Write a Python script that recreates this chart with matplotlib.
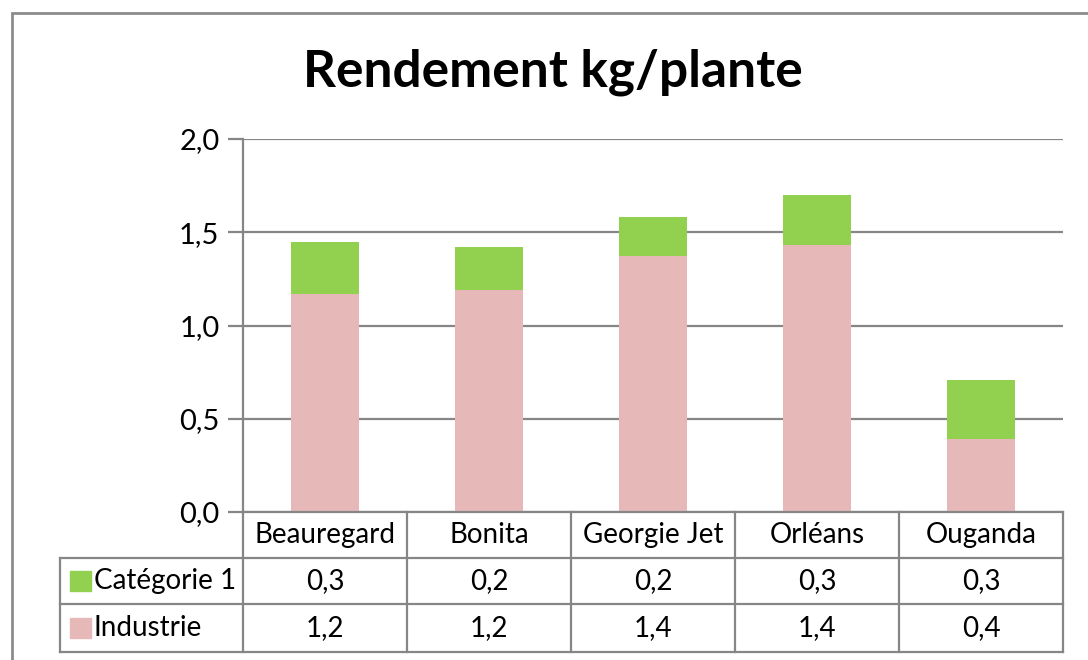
import numpy as np
import matplotlib.pyplot as plt
from matplotlib.patches import Rectangle
from matplotlib.lines import Line2D

varieties = ["Beauregard", "Bonita", "Georgie Jet", "Orléans", "Ouganda"]
industrie = [1.17, 1.19, 1.37, 1.43, 0.39]
categorie1 = [0.28, 0.23, 0.21, 0.27, 0.32]
series_names = ["Catégorie 1", "Industrie"]
pink = "#E6B9B8"
green = "#92D050"
grey = "#868686"

plt.rcParams['font.family'] = ['Lato', 'DejaVu Sans']

W, H = 1088, 660
fig = plt.figure(figsize=(W / 100, H / 100), dpi=100)

def fx(px):
    return px / W
def fy(py):
    return 1 - py / H

# outer chart border (cut by image edges)
fig.patches.append(Rectangle((fx(12), fy(700)), fx(1200), fy(13) - fy(700),
                             transform=fig.transFigure, fill=False,
                             edgecolor="#8c8c8c", lw=2))

left, right, top, bottom = 243, 1063, 139, 512
ax = fig.add_axes([fx(left), fy(bottom), fx(right - left), fy(top) - fy(bottom)])

x = np.arange(len(varieties))
ax.bar(x, industrie, width=0.41, color=pink, zorder=2)
ax.bar(x, categorie1, width=0.41, bottom=industrie, color=green, zorder=2)

ax.set_xlim(-0.5, len(varieties) - 0.5)
ax.set_ylim(0, 2.0)
ticks = [0, 0.5, 1.0, 1.5, 2.0]
ax.set_yticks(ticks)
ax.set_yticklabels([("%.1f" % t).replace(".", ",") for t in ticks], fontsize=21)
ax.yaxis.grid(True, color=grey, lw=1.6, zorder=0)
ax.set_xticks([])
ax.tick_params(axis='y', length=11, width=1.6, color=grey, pad=6)
for s in ["top", "right", "bottom"]:
    ax.spines[s].set_visible(False)
ax.spines["left"].set_color(grey)
ax.spines["left"].set_linewidth(1.6)

fig.text(fx(553), fy(72), "Rendement kg/plante", ha="center", va="center",
         fontsize=37, fontweight="bold")

# data table below the axis
rows = [512, 558, 604, 652]
cols = [left + i * (right - left) / len(varieties) for i in range(len(varieties) + 1)]
legend_left = 60
fs = 20

def hline(y, x0, x1):
    fig.add_artist(Line2D([fx(x0), fx(x1)], [fy(y), fy(y)], color=grey, lw=1.6))
def vline(xp, y0, y1):
    fig.add_artist(Line2D([fx(xp), fx(xp)], [fy(y0), fy(y1)], color=grey, lw=1.6))

hline(rows[0], left, right)
for y in rows[1:]:
    hline(y, legend_left, right)
for c in cols:
    vline(c, rows[0], rows[3])
vline(legend_left, rows[1], rows[3])

for i, name in enumerate(varieties):
    cx = (cols[i] + cols[i + 1]) / 2
    fig.text(fx(cx), fy((rows[0] + rows[1]) / 2), name, ha="center", va="center", fontsize=fs)
    fig.text(fx(cx), fy((rows[1] + rows[2]) / 2), ("%.1f" % categorie1[i]).replace(".", ","),
             ha="center", va="center", fontsize=fs)
    fig.text(fx(cx), fy((rows[2] + rows[3]) / 2), ("%.1f" % industrie[i]).replace(".", ","),
             ha="center", va="center", fontsize=fs)

for r, (name, col) in enumerate(zip(series_names, [green, pink])):
    yc = (rows[r + 1] + rows[r + 2]) / 2
    fig.patches.append(Rectangle((fx(70), fy(yc + 10)), fx(21), fy(yc - 10) - fy(yc + 10),
                                 transform=fig.transFigure, color=col))
    fig.text(fx(94), fy(yc), name, ha="left", va="center", fontsize=fs)

fig.savefig("out.png", dpi=100)
